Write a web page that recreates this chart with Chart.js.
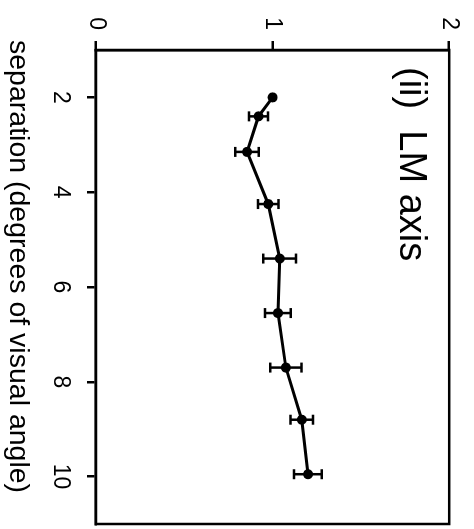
<!DOCTYPE html>
<html>
<head>
<meta charset="utf-8">
<script src="https://cdn.jsdelivr.net/npm/chart.js@4"></script>
<style>
  html, body { margin: 0; padding: 0; background: #fff; overflow: hidden; }
  #wrap {
    position: absolute; left: 0; top: 0;
    width: 529px; height: 474px;
    transform-origin: 0 0;
    transform: translateX(474px) rotate(90deg);
  }
</style>
</head>
<body>
<div id="wrap"><canvas id="lmChart"></canvas></div>
<script>
// data
const separation = [2, 2.4, 3.15, 4.25, 5.4, 6.55, 7.7, 8.8, 9.95];
const ratio = [1.0, 0.92, 0.855, 0.975, 1.04, 1.03, 1.075, 1.165, 1.2];
const ratioErr = [0, 0.054, 0.067, 0.058, 0.093, 0.073, 0.089, 0.064, 0.079];
const xTicks = [2, 4, 6, 8, 10];
const yTicks = [0, 1, 2];
const panelLabel = "(ii)  LM axis";
const xTitle = "separation (degrees of visual angle)";

const FONT = "'Liberation Sans', Arial, sans-serif";

// error bars, frame and text drawn on top
const extras = {
    id: 'extras',
    afterDatasetsDraw(chart) {
        const ctx = chart.ctx;
        const xs = chart.scales.x, ys = chart.scales.y;
        const area = chart.chartArea;
        ctx.save();
        ctx.strokeStyle = '#000';
        ctx.lineWidth = 2.5;

        // error bars
        separation.forEach((s, i) => {
            if (!ratioErr[i]) return;
            const px = xs.getPixelForValue(s);
            const y1 = ys.getPixelForValue(ratio[i] - ratioErr[i]);
            const y2 = ys.getPixelForValue(ratio[i] + ratioErr[i]);
            ctx.beginPath();
            ctx.moveTo(px, y1); ctx.lineTo(px, y2);
            ctx.moveTo(px - 5, y1); ctx.lineTo(px + 5, y1);
            ctx.moveTo(px - 5, y2); ctx.lineTo(px + 5, y2);
            ctx.stroke();
        });

        // box
        ctx.lineWidth = 2.5;
        ctx.strokeRect(area.left, area.top, area.right - area.left, area.bottom - area.top);

        // panel label
        ctx.fillStyle = '#000';
        ctx.textAlign = 'left';
        ctx.textBaseline = 'alphabetic';
        ctx.font = '38px ' + FONT;
        ctx.fillText(panelLabel, area.left + 17, area.top + 49);

        // x axis title
        ctx.font = '28.5px ' + FONT;
        ctx.fillText(xTitle, area.left - 10, 464);
        ctx.restore();
    }
};

const ctx = document.getElementById('lmChart').getContext('2d');
const lmChart = new Chart(ctx, {
    type: 'line',
    data: {
        datasets: [{
            data: separation.map((s, i) => ({ x: s, y: ratio[i] })),
            borderColor: '#000',
            backgroundColor: '#000',
            borderWidth: 3,
            pointRadius: 5,
            pointBackgroundColor: '#000',
            pointBorderWidth: 0,
            tension: 0
        }]
    },
    options: {
        responsive: true,
        maintainAspectRatio: false,
        animation: false,
        layout: { padding: { top: 22, right: 1, left: 0, bottom: 0 } },
        plugins: { legend: { display: false }, tooltip: { enabled: false } },
        scales: {
            x: {
                type: 'linear',
                min: 1, max: 11,
                afterBuildTicks: (scale) => { scale.ticks = xTicks.map(v => ({ value: v })); },
                afterFit: (scale) => { scale.height = 96; },
                ticks: { color: '#000', font: { family: FONT, size: 23 }, padding: 13, maxRotation: 0 },
                grid: { drawOnChartArea: false, drawTicks: true, tickLength: 9, color: '#000', lineWidth: 2.5 },
                border: { display: true, color: '#000', width: 2.5 }
            },
            y: {
                type: 'linear',
                min: 0, max: 2,
                afterBuildTicks: (scale) => { scale.ticks = yTicks.map(v => ({ value: v })); },
                afterFit: (scale) => { scale.width = 50; },
                ticks: { color: '#000', font: { family: FONT, size: 23 }, padding: 11 },
                grid: { drawOnChartArea: false, drawTicks: true, tickLength: 9, color: '#000', lineWidth: 2.5 },
                border: { display: true, color: '#000', width: 2.5 }
            }
        }
    },
    plugins: [extras]
});
</script>
</body>
</html>
